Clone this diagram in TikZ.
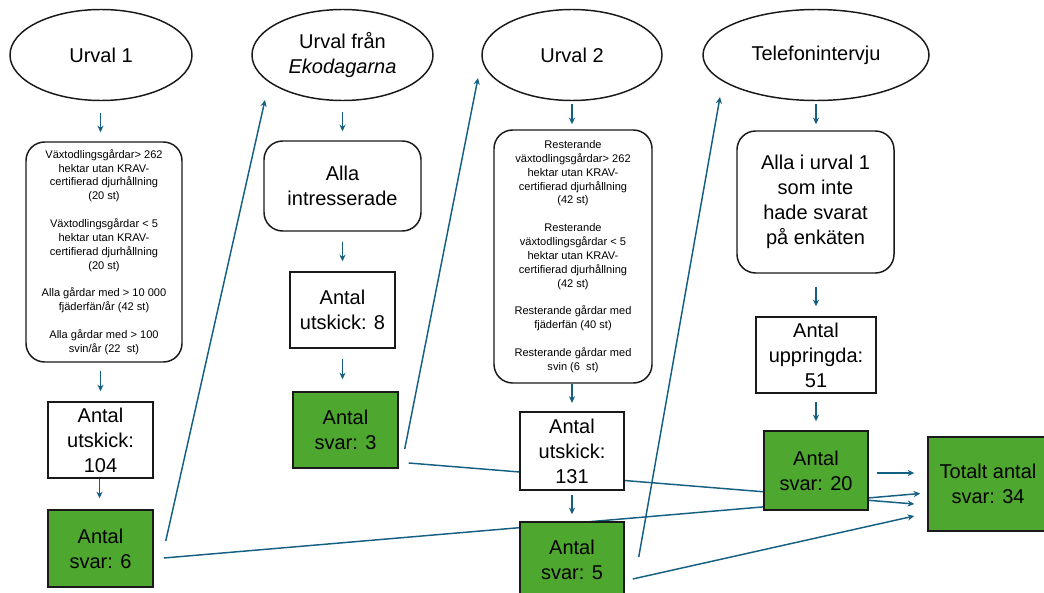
\documentclass[tikz,border=0pt]{standalone}
\usepackage{fontspec}
\setmainfont{Liberation Sans}
\usetikzlibrary{shapes.geometric,arrows.meta,calc,backgrounds}
\definecolor{arrblue}{HTML}{156082}
\definecolor{boxgreen}{HTML}{4EA72E}
\tikzset{
 base/.style={draw=black!90, line width=1.1pt, align=center, inner sep=2pt, font=\fontsize{15}{18.75}\selectfont},
 oval/.style={base, ellipse, fill=white},
 rbox/.style={base, rounded corners=14pt, fill=white},
 wbox/.style={base, rectangle, fill=white},
 gbox/.style={base, rectangle, fill=boxgreen},
 small/.style={font=\fontsize{8.3}{10.4}\selectfont},
 arr/.style={draw=arrblue, line width=1.1pt, -{Stealth[length=5pt,width=4.6pt]}},
}
\begin{document}
\begin{tikzpicture}[x=0.75pt,y=-0.75pt]
\useasboundingbox (0,0) rectangle (1044,592);
% ellipses
\node[oval, minimum width=136.5pt, minimum height=68.25pt] (e1) at (101,55) {Urval 1};
\node[oval, minimum width=135.75pt, minimum height=68.25pt] (e2) at (342.5,55) {Urval från\\\textit{Ekodagarna}};
\node[oval, minimum width=135pt, minimum height=68.25pt] (e3) at (572,55) {Urval 2};
\node[oval, minimum width=169.5pt, minimum height=68.25pt] (e4) at (816,55) {Telefonintervju};
% rounded boxes
\node[rbox, small, minimum width=117pt, minimum height=165pt] (b1) at (104,252)
 {Växtodlingsgårdar> 262\\hektar utan KRAV-\\certifierad djurhållning\\(20 st)\\[10.4pt]Växtodlingsgårdar < 5\\hektar utan KRAV-\\certifierad djurhållning\\(20 st)\\[10.4pt]Alla gårdar med > 10 000\\fjäderfän/år (42 st)\\[10.4pt]Alla gårdar med > 100\\svin/år (22~~st)};
\node[rbox, minimum width=117.75pt, minimum height=67.5pt] (b2) at (342.5,186) {Alla\\intresserade};
\node[rbox, small, minimum width=118.5pt, minimum height=189.75pt] (b3) at (573,256.5)
 {Resterande\\växtodlingsgårdar> 262\\hektar utan KRAV-\\certifierad djurhållning\\(42 st)\\[10.4pt]Resterande\\växtodlingsgårdar < 5\\hektar utan KRAV-\\certifierad djurhållning\\(42 st)\\[10.4pt]Resterande gårdar med\\fjäderfän (40 st)\\[10.4pt]Resterande gårdar med\\svin (6~~st)};
\node[rbox, minimum width=117.75pt, minimum height=106.5pt] (b4) at (815.5,202) {Alla i urval 1\\som inte\\hade svarat\\på enkäten};
% rectangles
\node[wbox, minimum width=78.75pt, minimum height=57pt] (u1) at (100.5,440) {Antal\\utskick:\\104};
\node[gbox, minimum width=78.75pt, minimum height=57.75pt] (s1) at (100.5,548.5) {Antal\\svar: 6};
\node[wbox, minimum width=78.75pt, minimum height=57pt] (u2) at (342.5,310) {Antal\\utskick: 8};
\node[gbox, minimum width=78.75pt, minimum height=57pt] (s2) at (345.5,430) {Antal\\svar: 3};
\node[wbox, minimum width=78pt, minimum height=58.5pt] (u3) at (572,451) {Antal\\utskick:\\131};
\node[gbox, minimum width=78pt, minimum height=57pt] (s3) at (572,560) {Antal\\svar: 5};
\node[wbox, minimum width=90pt, minimum height=57pt] (p4) at (816,355) {Antal\\uppringda:\\51};
\node[gbox, minimum width=78pt, minimum height=59.25pt] (s4) at (816,470.5) {Antal\\svar: 20};
\node[gbox, minimum width=90pt, minimum height=70.5pt] (tot) at (988,484) {Totalt antal\\svar: 34};
% short vertical arrows
\draw[arr, shorten <=9pt, shorten >=6.75pt] (e1.south -| u1.north) -- (u1.north |- b1.north);
\draw[arr, shorten <=6pt, shorten >=7.5pt] (u1.north |- b1.south) -- (u1.north);
\draw[arr, shorten >=8.25pt] ($(u1.south)+(-1,0)$) -- ($(s1.north)+(-1,0)$);
\draw[arr, shorten <=8.25pt, shorten >=6.75pt] (e2.south) -- (b2.north);
\draw[arr, shorten <=7.5pt, shorten >=7.5pt] (b2.south) -- (u2.north);
\draw[arr, shorten <=7.5pt, shorten >=9pt] (u2.south) -- (u2.south |- s2.north);
\draw[arr, shorten <=2.25pt, shorten >=3.75pt] (e3.south) -- (e3.south |- b3.north);
\draw[arr, shorten >=6.3pt] (u3.north |- b3.south) -- (u3.north);
\draw[arr, shorten <=3pt, shorten >=5.25pt] (u3.south) -- (s3.north);
\draw[arr, shorten <=2.25pt, shorten >=4.5pt] (e4.south) -- (e4.south |- b4.north);
\draw[arr, shorten <=9.75pt, shorten >=7.5pt] (b4.south -| p4.north) -- (p4.north);
\draw[arr, shorten <=6pt, shorten >=6.75pt] (p4.south) -- (s4.north);
% long connectors, behind boxes
\begin{pgfonlayer}{background}
\draw[arr] ($(s1.east)+(12,-7.5)$) -- ($(e2.center)+(-77.5,45)$);
\draw[arr] ($(s1.east)+(10,9.5)$) -- ($(tot.west)+(-7,9.5)$);
\draw[arr] ($(s2.east)+(6,19)$) -- ($(e3.center)+(-94,23)$);
\draw[arr] ($(s2.east)+(10,33)$) -- ($(tot.west)+(-13,20)$);
\draw[arr] ($(s3.east)+(14,-3)$) -- ($(e4.center)+(-96,42)$);
\draw[arr] ($(s3.east)+(8,19)$) -- ($(tot.west)+(-13,32)$);
\draw[arr] ($(s4.east)+(8,2.5)$) -- ($(tot.west)+(-13,-11)$);
\end{pgfonlayer}
\end{tikzpicture}
\end{document}
